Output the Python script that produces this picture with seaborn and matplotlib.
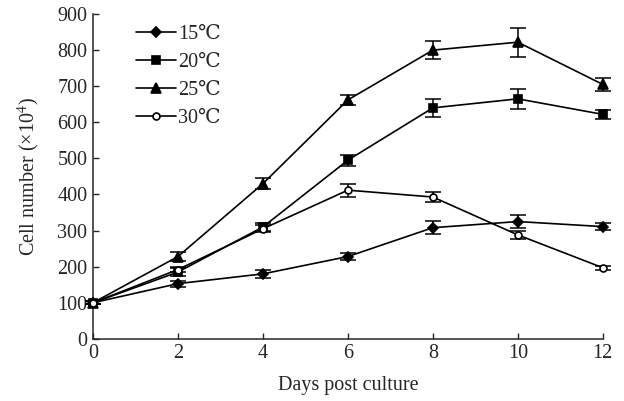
import numpy as np
import pandas as pd
import matplotlib
matplotlib.use("Agg")
import matplotlib.pyplot as plt
import seaborn as sns

# Datos
days = [0, 2, 4, 6, 8, 10, 12]
labels = ["15℃", "20℃", "25℃", "30℃"]

cells_15 = [100, 153, 180, 228, 308, 325, 311]
cells_20 = [100, 185, 310, 495, 640, 665, 622]
cells_25 = [100, 228, 430, 662, 800, 822, 705]
cells_30 = [100, 192, 305, 412, 393, 288, 197]

err_15 = [4, 8, 12, 10, 18, 18, 10]
err_20 = [4, 10, 12, 15, 25, 27, 12]
err_25 = [4, 12, 15, 15, 25, 40, 18]
err_30 = [4, 6, 10, 18, 15, 10, 5]

series = [cells_15, cells_20, cells_25, cells_30]
errors = [err_15, err_20, err_25, err_30]
markers = ["D", "s", "^", "o"]
face = ["black", "black", "black", "white"]
msize = [5.5, 6, 6.5, 5]

sns.set_style("ticks")
plt.rcParams["font.family"] = ["Liberation Serif", "DejaVu Serif"]
plt.rcParams["mathtext.fontset"] = "stix"

fs = 14.5

fig = plt.figure(figsize=(6.24, 4.01), dpi=100)
ax = fig.add_axes([0.149, 0.155, 0.817, 0.81])

for vals, errs, lab, mk, fc, ms in zip(series, errors, labels, markers, face, msize):
    df = pd.DataFrame({"day": days, "cells": vals})
    sns.lineplot(data=df, x="day", y="cells", ax=ax, color="black", lw=1.2,
                 marker=mk, markersize=ms, markerfacecolor=fc,
                 markeredgecolor="black", markeredgewidth=1.2,
                 label=lab, clip_on=False, zorder=3)
    ax.errorbar(days, vals, yerr=errs, fmt="none", ecolor="black",
                elinewidth=1.1, capsize=6, capthick=1.1, clip_on=False, zorder=2)

ax.set_xlim(0, 12)
ax.set_ylim(0, 900)
ax.set_xticks(range(0, 13, 2))
ax.set_yticks(range(0, 901, 100))
ax.tick_params(direction="in", length=4, width=1, labelsize=fs, pad=4)
for s in ["top", "right"]:
    ax.spines[s].set_visible(False)
for s in ["left", "bottom"]:
    ax.spines[s].set_linewidth(1.1)

ax.set_xlabel("Days post culture", fontsize=fs, labelpad=9)
ax.set_ylabel("Cell number (×10$^4$)", fontsize=fs, labelpad=11)

ax.legend(loc="upper left", bbox_to_anchor=(0.06, 1.005), frameon=False,
          fontsize=fs, handlelength=2.0, handletextpad=0.1,
          labelspacing=0.45, borderaxespad=0.2)

fig.savefig("out.png", dpi=100)
